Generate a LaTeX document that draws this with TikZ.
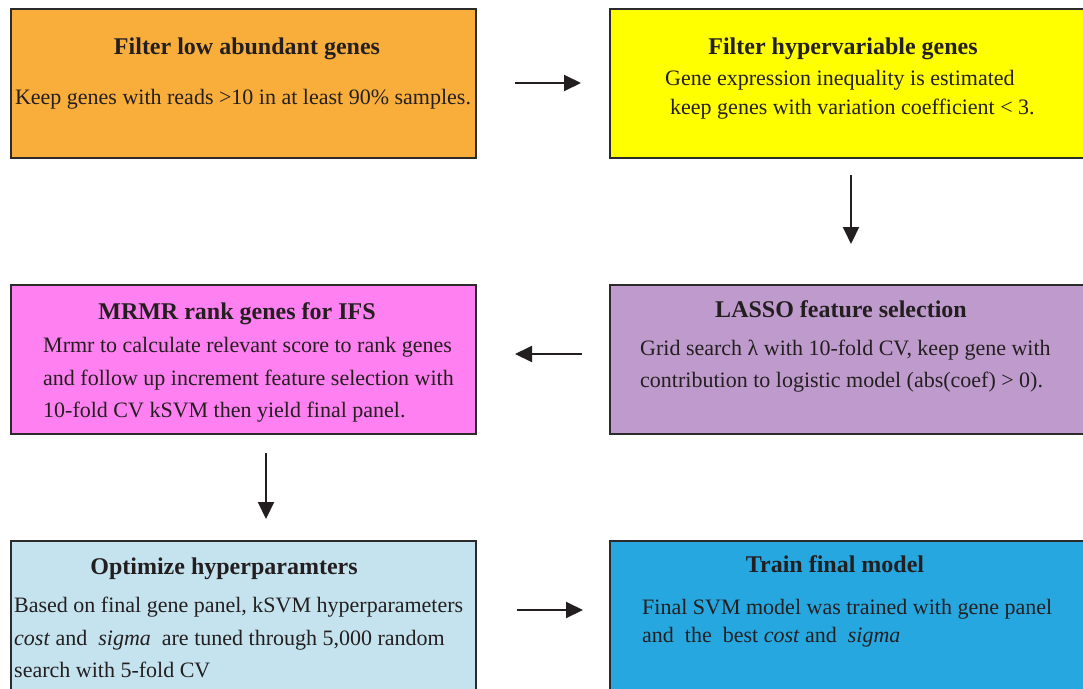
\documentclass[tikz,border=0pt]{standalone}
\usepackage{fontspec}
\setmainfont{Liberation Serif}
\usetikzlibrary{arrows.meta}
\definecolor{cOrange}{HTML}{F9AE3C}
\definecolor{cYellow}{HTML}{FFFF00}
\definecolor{cPurple}{HTML}{BF9BCD}
\definecolor{cPink}{HTML}{FF80F0}
\definecolor{cLight}{HTML}{C4E3EE}
\definecolor{cBlue}{HTML}{27A7DF}
\definecolor{cBorder}{HTML}{2B2B2B}
\definecolor{cText}{HTML}{231F20}
\tikzset{
  x=1pt, y=1pt,
  box/.style={draw=cBorder, line width=2pt, anchor=north west, inner sep=0pt},
  lbox/.style={box, minimum width=465pt},
  rbox/.style={box, minimum width=490pt},
  ttl/.style={anchor=base, inner sep=0pt, text=cText, font=\fontsize{24}{28}\selectfont\bfseries},
  bdy/.style={anchor=base west, inner sep=0pt, text=cText, font=\fontsize{22}{26}\selectfont},
  bdyc/.style={bdy, anchor=base},
  flow/.style={draw=cText, line width=2pt, -{Triangle[length=17pt,width=16pt]}}
}
\begin{document}
\begin{tikzpicture}
\clip (0,0) rectangle (1083,-688);
\fill[white] (0,0) rectangle (1083,-688);

% boxes
\node[lbox, fill=cOrange, minimum height=149pt] (b1) at (10,-8) {};
\node[rbox, fill=cYellow, minimum height=149pt] (b2) at (609,-8) {};
\node[rbox, fill=cPurple, minimum height=149pt] (b3) at (609,-284) {};
\node[lbox, fill=cPink, minimum height=149pt] (b4) at (10,-284) {};
\node[lbox, fill=cLight, minimum height=170pt] (b5) at (10,-540) {};
\node[rbox, fill=cBlue, minimum height=170pt] (b6) at (609,-540) {};

% box 1
\node[ttl] (t1) at (247,-54) {Filter low abundant genes};
\node[bdyc] (t1a) at (243,-104) {Keep genes with reads >10 in at least 90\% samples.};

% box 2
\node[ttl] (t2) at (843,-54) {Filter hypervariable genes};
\node[bdy] (t2a) at (665,-85) {Gene expression inequality is estimated};
\node[bdy] (t2b) at (670,-114) {keep genes with variation coefficient < 3.};

% box 3
\node[ttl] (t3) at (841,-317) {LASSO feature selection};
\node[bdy] (t3a) at (640,-355) {Grid search λ with 10-fold CV, keep gene with};
\node[bdy] (t3b) at (640,-387) {contribution to logistic model (abs(coef) > 0).};

% box 4
\node[ttl] (t4) at (237,-319) {MRMR rank genes for IFS};
\node[bdy] (t4a) at (43,-352) {Mrmr to calculate relevant score to rank genes};
\node[bdy] (t4b) at (43,-385) {and follow up increment feature selection with};
\node[bdy] (t4c) at (43,-417) {10-fold CV kSVM then yield final panel.};

% box 5
\node[ttl] (t5) at (224,-574) {Optimize hyperparamters};
\node[bdy] (t5a) at (14,-612) {Based on final gene panel, kSVM hyperparameters};
\node[bdy] (t5b) at (14,-645) {\textit{cost} and\ \ \textit{sigma}\ \ are tuned through 5,000 random};
\node[bdy] (t5c) at (14,-677) {search with 5-fold CV};

% box 6
\node[ttl] (t6) at (835,-572) {Train final model};
\node[bdy] (t6a) at (642,-614) {Final SVM model was trained with gene panel};
\node[bdy] (t6b) at (642,-642) {and\ \ the\ \ best \textit{cost} and\ \ \textit{sigma}};

% arrow end points
\coordinate (a1s) at (515,-83);  \coordinate (a1e) at (581,-83);
\coordinate (a2s) at (851,-175); \coordinate (a2e) at (851,-244);
\coordinate (a3s) at (582,-354); \coordinate (a3e) at (515,-354);
\coordinate (a4s) at (266,-453); \coordinate (a4e) at (266,-519);
\coordinate (a5s) at (517,-610); \coordinate (a5e) at (583,-610);

\draw[flow] (a1s) -- (a1e);
\draw[flow] (a2s) -- (a2e);
\draw[flow] (a3s) -- (a3e);
\draw[flow] (a4s) -- (a4e);
\draw[flow] (a5s) -- (a5e);
\end{tikzpicture}
\end{document}
